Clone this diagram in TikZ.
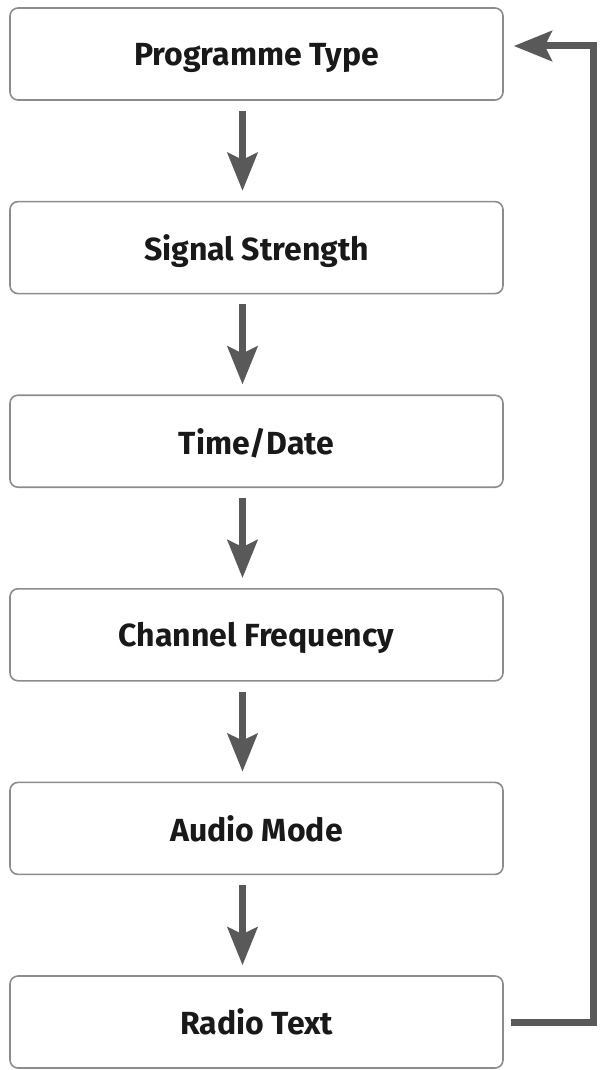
\documentclass[tikz,border=0pt]{standalone}
\usepackage{fontspec}
\setmainfont{Fira Sans}
\usepackage{tikz}
\usetikzlibrary{arrows.meta,positioning}

\begin{document}
\begin{tikzpicture}[
  x=1pt, y=1pt,
  font=\fontsize{32}{36}\selectfont\bfseries,
  stage/.style={draw=black!45, line width=1.6pt, rounded corners=8pt, fill=white,
    text=black!90, minimum width=493pt, minimum height=92pt, inner sep=0pt,
    text depth=0pt},
  flow/.style={-{Stealth[length=38pt, width=30pt, inset=7pt]}, line width=6.5pt,
    draw=black!65, shorten <=10pt, shorten >=10pt},
  back/.style={-{Stealth[length=38pt, width=30pt, inset=7pt]}, line width=7pt,
    draw=black!65}
]
\useasboundingbox (0,0) rectangle (601,-1070);
\node[stage] (ptype) at (256.5,-54) {Programme Type};
\node[stage, below=100pt of ptype] (signal) {Signal Strength};
\node[stage, below=100pt of signal] (timedate) {Time/Date};
\node[stage, below=100pt of timedate] (channel) {Channel Frequency};
\node[stage, below=100pt of channel] (audio) {Audio Mode};
\node[stage, below=100pt of audio] (radio) {Radio Text};
\foreach \a/\b in {ptype/signal, signal/timedate, timedate/channel,
  channel/audio, audio/radio}
  \draw[flow] ([xshift=-14pt]\a.south) -- ([xshift=-14pt]\b.north);
% feedback loop back to the top
\coordinate (looptop) at (593.5,-46);
\draw[back] ([xshift=7pt]radio.east) -| (looptop)
  -- ([xshift=10pt,yshift=8pt]ptype.east);
\end{tikzpicture}
\end{document}
